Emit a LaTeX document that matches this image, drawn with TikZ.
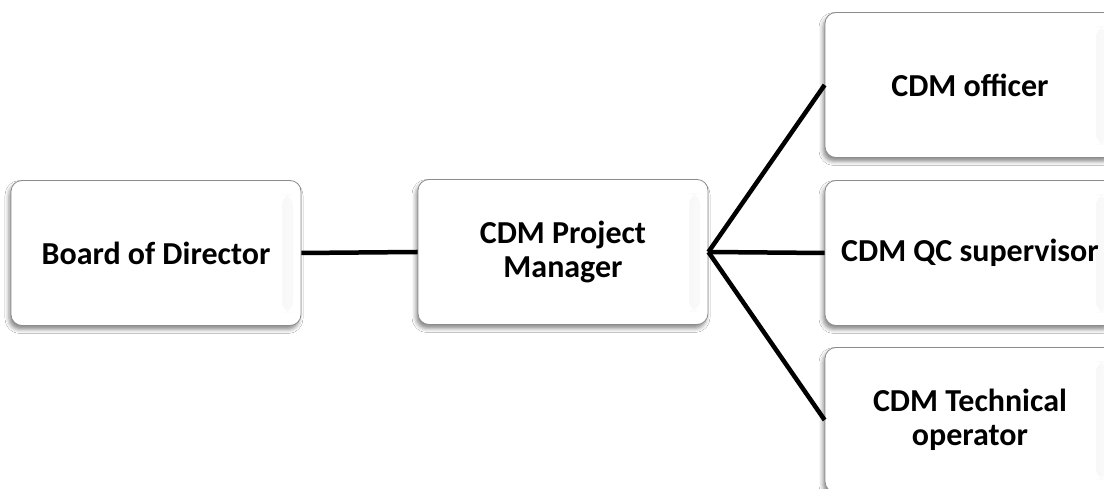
\documentclass[tikz,border=0pt]{standalone}
\usepackage{fontspec}
\setmainfont{Carlito}
\usetikzlibrary{shadows.blur}
\tikzset{
  x=1pt, y=1pt,
  orgbox/.style={
    draw=black!45, line width=0.8pt, fill=white,
    rounded corners=11pt,
    minimum width=290pt, minimum height=145pt,
    align=center, inner sep=4pt,
    font=\fontsize{32}{34}\selectfont\bfseries,
    blur shadow={shadow xshift=-2pt, shadow yshift=-4pt,
                 shadow blur radius=4pt, shadow opacity=45},
    % soft bevel strip along the right edge, under the text
    path picture={
      \shade[left color=black!13, right color=black!2]
        ([xshift=-19pt,yshift=-14pt]path picture bounding box.north east)
        rectangle
        ([xshift=-8pt,yshift=13pt]path picture bounding box.south east);
    }
  },
  link/.style={line width=4.5pt, black}
}
\begin{document}
\begin{tikzpicture}
\clip (0,0) rectangle (1104,489);
\fill[white] (0,0) rectangle (1104,489);

% boxes of the organisation chart
\node[orgbox] (bod)  at (156,236) {Board of Director};
\node[orgbox] (pm)   at (563,237) {CDM Project\\Manager};
\node[orgbox] (off)  at (970,404) {CDM officer};
\node[orgbox] (qc)   at (970,236) {CDM QC supervisor};
\node[orgbox] (tech) at (970,69)  {CDM Technical\\operator};

% connectors
\draw[link] (bod.east) -- (pm.west);
\draw[link] (pm.east) -- (off.west);
\draw[link] (pm.east) -- (qc.west);
\draw[link] (pm.east) -- (tech.west);
\end{tikzpicture}
\end{document}
